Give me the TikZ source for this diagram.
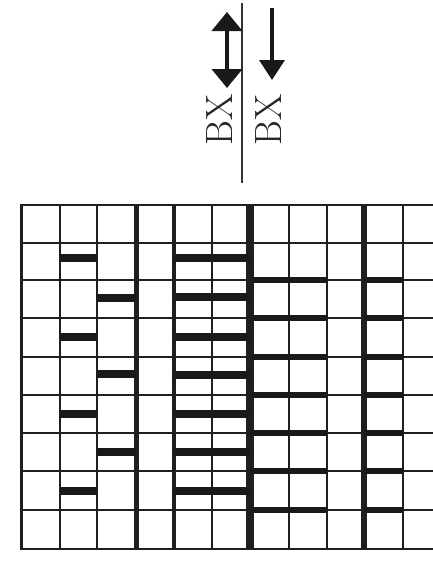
\documentclass[tikz,border=0pt]{standalone}
\usetikzlibrary{arrows.meta}
\begin{document}
\begin{tikzpicture}[x=1pt,y=-1pt,
  thinline/.style={line width=2.5pt,black!88},
  barline/.style={line width=8pt,black!90},
  rowbar/.style={line width=6.5pt,black!90},
  lbl/.style={rotate=90,font=\fontsize{38}{38}\selectfont,inner sep=0pt,black!85}]
\useasboundingbox (0,0) rectangle (433,566);
\fill[white] (0,0) rectangle (433,566);
\begin{scope}
\clip (0,0) rectangle (433,566);
% horizontal row lines
\foreach \y in {205,243,280,318,357,395,433,471,510,549}
  \draw[thinline] (20,\y) -- (440,\y);
% vertical column lines
\foreach \x/\w in {21/3,60/2.5,97/2.5,136/5,174/4,212/2.5,250/7.5,289/2.5,327/2.5,364/6,403/2.5}
  \draw[line width=\w pt,black!88] (\x,204) -- (\x,550);
% bars column 2
\foreach \y in {258,337,414,491}
  \draw[barline] (60,\y) -- (97,\y);
% bars column 3
\foreach \y in {298,374,452}
  \draw[barline] (97,\y) -- (136,\y);
% bars columns 5-6
\foreach \y in {258,297,337,375,414,452,491}
  \draw[barline] (174,\y) -- (250,\y);
% thick row lines columns 7-8 and 10
\foreach \y in {280,318,357,395,433,471,510}{
  \draw[rowbar] (250,\y) -- (327,\y);
  \draw[rowbar] (364,\y) -- (403,\y);
}
\end{scope}
% top labels
\draw[line width=2.5pt,black!80] (242,3) -- (242,183);
\coordinate (a1) at (227,12);
\coordinate (a2) at (227,88);
\draw[line width=4pt,black!90,{Triangle[length=19pt,width=30pt]}-{Triangle[length=19pt,width=30pt]}] (a1) -- (a2);
\coordinate (b1) at (272,8);
\coordinate (b2) at (272,80);
\draw[line width=3.5pt,black!90,-{Triangle[length=20pt,width=25pt]}] (b1) -- (b2);
\node[lbl] (bx1) at (220,120) {BX};
\node[lbl] (bx2) at (269,120) {BX};
\end{tikzpicture}
\end{document}
